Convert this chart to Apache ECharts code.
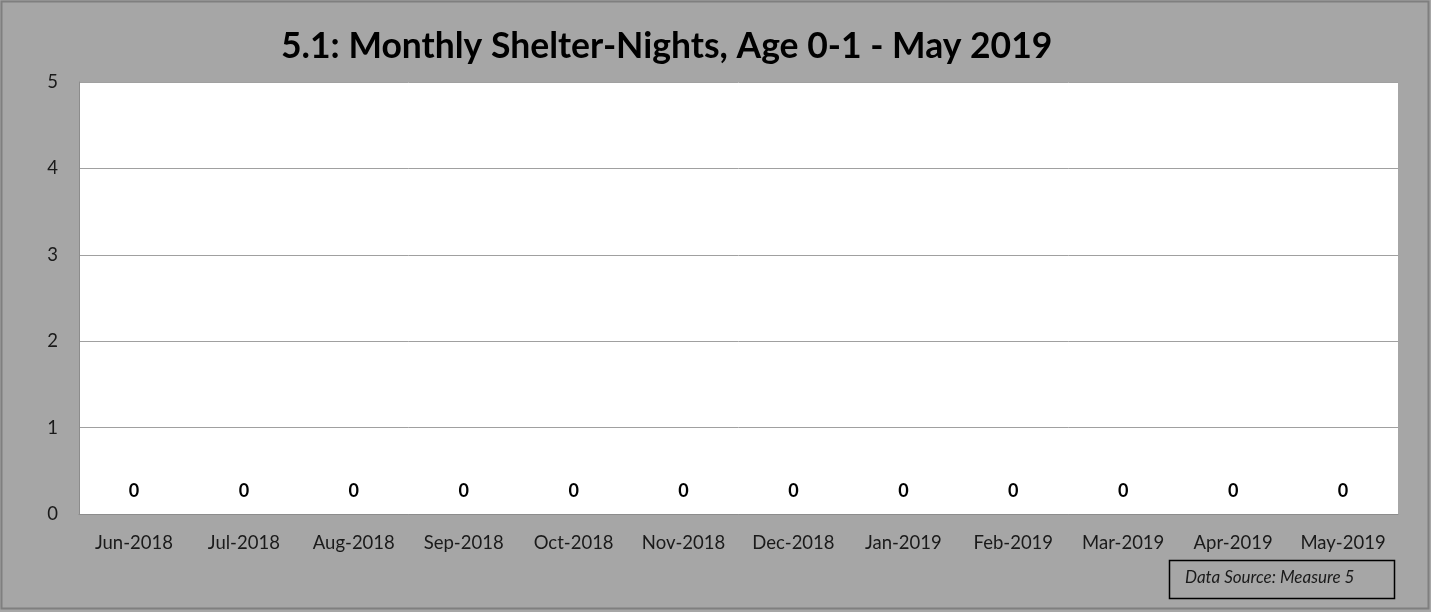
<!DOCTYPE html>
<html>
<head>
<meta charset="utf-8">
<script src="https://cdn.jsdelivr.net/npm/echarts@6/dist/echarts.min.js"></script>
<style>
  html, body { margin: 0; padding: 0; background: #a6a6a6; }
  #box { width: 1431px; height: 612px; }
</style>
</head>
<body>
<div id="box"></div>
<script>
const months = ['Jun-2018', 'Jul-2018', 'Aug-2018', 'Sep-2018', 'Oct-2018', 'Nov-2018',
  'Dec-2018', 'Jan-2019', 'Feb-2019', 'Mar-2019', 'Apr-2019', 'May-2019'];
const nights = [0, 0, 0, 0, 0, 0, 0, 0, 0, 0, 0, 0];
const yTicks = [0, 1, 2, 3, 4, 5];

const font = 'Lato, "Open Sans", sans-serif';
let myecharts = echarts.init(document.getElementById('box'));
let options = {
  backgroundColor: '#a6a6a6',
  animation: false,
  title: {
    text: '5.1: Monthly Shelter-Nights, Age 0-1 - May 2019',
    left: 276,
    top: 24,
    textStyle: { fontFamily: font, fontSize: 35.5, fontWeight: 'bold', color: '#000' }
  },
  grid: {
    left: 79, right: 33, top: 82, bottom: 98,
    show: true,
    backgroundColor: '#fff',
    borderWidth: 0
  },
  xAxis: {
    type: 'category',
    data: months,
    axisLine: { lineStyle: { color: '#8c8c8c', width: 1 } },
    axisTick: { show: false },
    axisLabel: { interval: 0, fontFamily: font, fontSize: 18.5, color: '#1a1a1a', margin: 20 }
  },
  yAxis: {
    type: 'value',
    min: yTicks[0],
    max: yTicks[yTicks.length - 1],
    interval: 1,
    axisLine: { show: true, lineStyle: { color: '#8c8c8c', width: 1 } },
    axisTick: { show: false },
    axisLabel: { fontFamily: font, fontSize: 18.5, color: '#1a1a1a', margin: 21 },
    splitLine: { lineStyle: { color: '#a0a0a0', width: 1 } }
  },
  series: [{
    type: 'bar',
    data: nights,
    barWidth: '60%',
    itemStyle: { color: '#4f81bd' },
    label: {
      show: true,
      position: 'top',
      distance: 14,
      fontFamily: font,
      fontSize: 18,
      fontWeight: 'bold',
      color: '#000'
    }
  }],
  graphic: [
    {
      type: 'rect',
      shape: { x: 1.5, y: 1.5, width: 1427, height: 607 },
      style: { fill: 'none', stroke: '#7f7f7f', lineWidth: 2 },
      silent: true
    },
    {
      type: 'rect',
      shape: { x: 1169.5, y: 560.5, width: 225, height: 38 },
      style: { fill: 'none', stroke: '#000', lineWidth: 1.5 }
    },
    {
      type: 'text',
      left: 1185,
      top: 569,
      style: {
        text: 'Data Source: Measure 5',
        font: 'italic 17px Lato, "Open Sans", sans-serif',
        fill: '#1a1a1a'
      }
    }
  ]
};
myecharts.setOption(options);
window.onresize = function () {
  myecharts.resize();
};
</script>
</body>
</html>
